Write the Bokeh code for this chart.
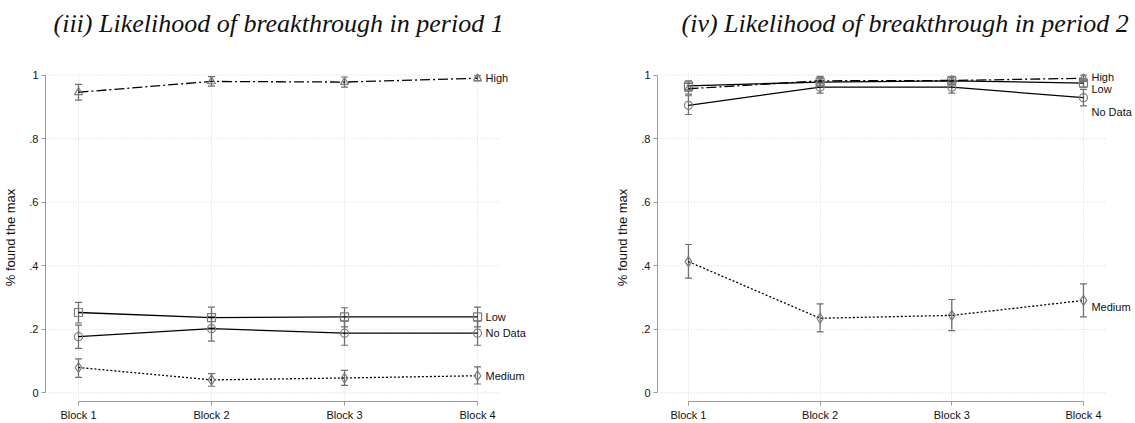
from bokeh.plotting import figure
from bokeh.models import (ColumnDataSource, Whisker, TeeHead, LabelSet, FixedTicker,
                          Range1d, Title)
from bokeh.core.properties import value
from bokeh.layouts import row
from bokeh.embed import file_html
from bokeh.resources import INLINE

# ---------------- data ----------------
blocks = [1, 2, 3, 4]
block_labels = ["Block 1", "Block 2", "Block 3", "Block 4"]
series_names = ["High", "Low", "No Data", "Medium"]

# panel (iii): period 1
p1_high = [0.946, 0.980, 0.978, 0.990]
p1_high_lo = [0.921, 0.965, 0.962, 0.982]
p1_high_hi = [0.971, 0.995, 0.994, 0.998]
p1_low = [0.253, 0.237, 0.239, 0.239]
p1_low_lo = [0.220, 0.205, 0.208, 0.208]
p1_low_hi = [0.285, 0.270, 0.268, 0.270]
p1_nodata = [0.177, 0.202, 0.188, 0.188]
p1_nodata_lo = [0.140, 0.163, 0.150, 0.150]
p1_nodata_hi = [0.213, 0.240, 0.226, 0.226]
p1_medium = [0.080, 0.041, 0.047, 0.054]
p1_medium_lo = [0.049, 0.021, 0.024, 0.028]
p1_medium_hi = [0.107, 0.061, 0.071, 0.082]
p1_label_y = [0.990, 0.239, 0.188, 0.054]

# panel (iv): period 2
p2_high = [0.957, 0.982, 0.983, 0.990]
p2_high_lo = [0.940, 0.968, 0.970, 0.980]
p2_high_hi = [0.974, 0.996, 0.996, 1.000]
p2_low = [0.966, 0.978, 0.982, 0.975]
p2_low_lo = [0.950, 0.965, 0.970, 0.962]
p2_low_hi = [0.982, 0.991, 0.994, 0.988]
p2_nodata = [0.905, 0.962, 0.962, 0.929]
p2_nodata_lo = [0.876, 0.943, 0.943, 0.903]
p2_nodata_hi = [0.935, 0.981, 0.981, 0.955]
p2_medium = [0.413, 0.235, 0.244, 0.291]
p2_medium_lo = [0.361, 0.192, 0.196, 0.239]
p2_medium_hi = [0.467, 0.280, 0.294, 0.343]
p2_label_y = [0.995, 0.955, 0.885, 0.270]

y_ticks = [0, 0.2, 0.4, 0.6, 0.8, 1.0]
y_tick_labels = ["0", ".2", ".4", ".6", ".8", "1"]

FONT = "Liberation Sans"
AXIS_COLOR = "#9a9a9a"
ERR_COLOR = "#6e6e6e"
MARK_COLOR = "#7a7a7a"
GRID_COLOR = "#d4d4d4"


def make_panel(title, title_offset, data, label_y, left_border, right_border, width,
               x_lo, x_hi, grid_end):
    p = figure(width=width, height=423, output_backend="svg", toolbar_location=None,
               x_range=Range1d(x_lo, x_hi), y_range=Range1d(-0.027, 1.005),
               min_border_left=left_border, min_border_right=right_border,
               min_border_top=73, min_border_bottom=22)
    p.title = Title(text=title, text_font="Liberation Serif", text_font_style="italic",
                    text_font_size="26px", text_color="#111111", align="left",
                    offset=title_offset, vertical_align="top", standoff=12)
    # spacer between the title and the plot frame
    p.add_layout(Title(text=" ", text_font_size="2px", standoff=24), "above")
    p.outline_line_color = None
    p.background_fill_color = "white"
    p.border_fill_color = "white"

    # axes
    p.xaxis.ticker = FixedTicker(ticks=blocks)
    p.xaxis.major_label_overrides = {b: l for b, l in zip(blocks, block_labels)}
    p.xaxis.bounds = (1, 4)
    p.yaxis.ticker = FixedTicker(ticks=y_ticks)
    p.yaxis.major_label_overrides = {t: l for t, l in zip(y_ticks, y_tick_labels)}
    p.yaxis.bounds = (0, 1)
    p.yaxis.axis_label = "% found the max"
    for ax in (p.xaxis[0], p.yaxis[0]):
        ax.axis_line_color = AXIS_COLOR
        ax.major_tick_line_color = AXIS_COLOR
        ax.minor_tick_line_color = None
        ax.major_tick_in = 0
        ax.major_tick_out = 4
        ax.major_label_text_font = FONT
        ax.major_label_text_font_size = "11px"
        ax.major_label_text_color = "#111111"
        ax.major_label_standoff = 3
        ax.axis_label_text_font = FONT
        ax.axis_label_text_font_size = "13px"
        ax.axis_label_text_font_style = "normal"
        ax.axis_label_text_color = "#111111"
        ax.axis_label_standoff = 8
    p.yaxis.major_label_orientation = "horizontal"

    # grids: vertical via grid, horizontal drawn only up to the data area
    p.xgrid.grid_line_color = GRID_COLOR
    p.xgrid.grid_line_dash = "1 2"
    p.xgrid.grid_line_width = 1
    p.ygrid.grid_line_color = None
    gsrc = ColumnDataSource(dict(y=y_ticks, x0=[x_lo] * len(y_ticks),
                                 x1=[grid_end] * len(y_ticks)))
    p.segment(x0="x0", x1="x1", y0="y", y1="y", source=gsrc,
              line_color=GRID_COLOR, line_dash="1 2", line_width=1)

    styles = {
        "High": dict(dash="10 3 2 3", marker="triangle", size=8),
        "Low": dict(dash="solid", marker="square", size=8),
        "No Data": dict(dash="solid", marker="circle", size=8),
        "Medium": dict(dash="2 2", marker="diamond", size=10),
    }
    order = ["Medium", "No Data", "Low", "High"]
    for name in order:
        y, lo, hi = data[name]
        src = ColumnDataSource(dict(x=blocks, y=y, lo=lo, hi=hi))
        st = styles[name]
        p.line("x", "y", source=src, line_color="black", line_width=1.3,
               line_dash=st["dash"])
        w = Whisker(source=src, base="x", upper="hi", lower="lo",
                    line_color=ERR_COLOR, line_width=1.3,
                    upper_head=TeeHead(size=7, line_color=ERR_COLOR, line_width=1.2),
                    lower_head=TeeHead(size=7, line_color=ERR_COLOR, line_width=1.2))
        p.add_layout(w)
        p.scatter("x", "y", source=src, marker=st["marker"], size=st["size"],
                  fill_color=None, line_color=MARK_COLOR, line_width=1.2)

    lab_src = ColumnDataSource(dict(x=[4, 4, 4, 4], y=label_y, t=series_names))
    labels = LabelSet(x="x", y="y", text="t", source=lab_src, x_offset=8,
                      text_font=value(FONT), text_font_size=value("11px"),
                      text_color="#111111",
                      text_align="left", text_baseline="middle")
    p.add_layout(labels)
    return p


data1 = {
    "High": (p1_high, p1_high_lo, p1_high_hi),
    "Low": (p1_low, p1_low_lo, p1_low_hi),
    "No Data": (p1_nodata, p1_nodata_lo, p1_nodata_hi),
    "Medium": (p1_medium, p1_medium_lo, p1_medium_hi),
}
data2 = {
    "High": (p2_high, p2_high_lo, p2_high_hi),
    "Low": (p2_low, p2_low_lo, p2_low_hi),
    "No Data": (p2_nodata, p2_nodata_lo, p2_nodata_hi),
    "Medium": (p2_medium, p2_medium_lo, p2_medium_hi),
}

left = make_panel("(iii) Likelihood of breakthrough in period 1", 8, data1, p1_label_y,
                  45, 22, 567, 0.752, 4.511, 4.17)
right = make_panel("(iv) Likelihood of breakthrough in period 2", 24, data2, p2_label_y,
                   90, 2, 568, 0.765, 4.38, 4.17)

layout = row(left, right, spacing=0)
open("out.html", "w").write(file_html(layout, INLINE))
